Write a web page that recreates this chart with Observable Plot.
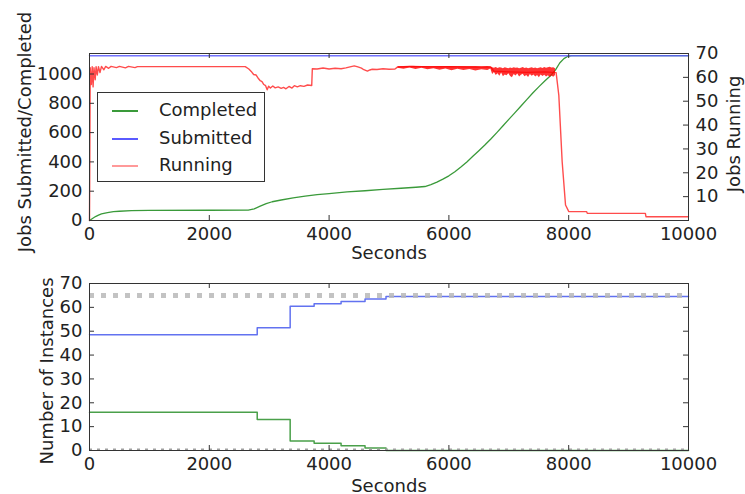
<!DOCTYPE html>
<html><head><meta charset="utf-8">
<script src="https://cdn.jsdelivr.net/npm/d3@7"></script>
<script src="https://cdn.jsdelivr.net/npm/@observablehq/plot@0.6"></script>
<style>
body{margin:0;background:#fff;}
#wrap{position:relative;width:745px;height:494px;overflow:hidden;font-family:"DejaVu Sans";}
#wrap svg{display:block;}
#legend{position:absolute;left:97px;top:92px;width:166px;height:88px;border:1.5px solid #333;background:#fff;}
.row{position:absolute;left:0;height:20px;width:160px;}
.sw{position:absolute;left:14px;width:26px;top:9px;height:0;border-top:2px solid;}
.lab{position:absolute;left:61px;top:-2px;font-size:18px;color:#222;white-space:nowrap;line-height:22px;}
</style></head><body>
<div id="wrap"><div id="top"></div><div id="bot"></div><div id="legend"></div></div>
<script>
// ---------- data ----------
const secTicks = [0, 2000, 4000, 6000, 8000, 10000];
const jobTicks = [0, 200, 400, 600, 800, 1000];
const runTicks = [10, 20, 30, 40, 50, 60, 70];
const instTicks = [0, 10, 20, 30, 40, 50, 60, 70];

const seriesNames = ["Completed", "Submitted", "Running"];

// Completed jobs [seconds, jobs]
const completed = [[0,0],[50,14],[100,27],[150,37],[200,45],[300,54],[400,60],[500,63],[700,67],[1000,69],[2000,70],[2650,71],[2750,80],[2850,98],[2950,115],[3050,128],[3200,140],[3400,155],[3600,167],[3800,176],[4000,184],[4300,195],[4600,203],[4900,212],[5200,220],[5450,227],[5600,232],[5700,245],[5800,262],[5900,282],[6000,305],[6100,333],[6200,365],[6300,400],[6400,438],[6500,476],[6600,515],[6700,556],[6800,600],[6900,645],[7000,690],[7100,735],[7200,780],[7300,825],[7400,870],[7500,912],[7600,952],[7700,990],[7780,1028],[7850,1075],[7920,1105],[7980,1120],[8050,1125],[10000,1125]];

// Submitted jobs [seconds, jobs]
const submitted = [[0,1125],[10000,1125]];

// Running jobs [seconds, jobs running] (right axis)
const running = [[0,0],[12,64],[30,57],[45,64.5],[60,56],[75,64],[95,59],[110,64.5],[130,61],[150,64.5],[175,62],[200,64.6],[240,63.2],[270,64.6],[320,63.8],[360,64.6],[450,64.1],[500,64.6],[600,64],[650,64.6],[760,64.1],[800,64.5],[2600,64.5],[2660,63.5],[2700,62.5],[2740,61.2],[2780,61],[2820,59.5],[2850,58.6],[2880,58.2],[2910,57],[2940,56.5],[2966,54.8],[2990,56.3],[3020,55.5],[3060,56.4],[3100,55.6],[3150,56],[3200,55.4],[3240,55.8],[3280,55.2],[3330,56.2],[3380,55.5],[3420,56.5],[3470,56],[3520,56.5],[3580,56.2],[3640,56.8],[3710,56.6],[3720,63.6],[3800,63.5],[3900,63.9],[4000,63.5],[4100,63.8],[4200,63.6],[4280,64],[4350,64.4],[4420,64.8],[4480,64.4],[4540,63.9],[4580,63.2],[4640,62.6],[4680,63.1],[4720,63.4],[4800,63.3],[4900,63.6],[5000,63.4],[5100,63.5],[5140,64.3],[5400,64.6],[5700,64.4],[6000,64.5],[6300,64.3],[6700,64.3],[6750,62.6],[7000,62.3],[7300,62.1],[7600,62.3],[7790,62],[7835,52.5],[7891,24.6],[7947,6.5],[8002,3.7],[8300,3.7],[8310,3.0],[9280,3.0],[9290,1.6],[10000,1.6]];

// Running jobs: spread of the noisy samples [seconds, low, high]
const runSpread = [[5150,63.8,64.6],[5250,63.4,64.6],[5350,63.9,64.7],[5450,63.3,64.6],[5550,63.8,64.5],[5650,63.2,64.6],[5750,63.6,64.6],[5850,63,64.6],[5950,63.5,64.5],[6050,62.8,64.6],[6150,63.4,64.6],[6250,62.9,64.5],[6350,63.3,64.6],[6450,62.7,64.5],[6550,63.2,64.4],[6650,62.9,64.5],[6700,63.5,64.4],[6730,61.2,64],[6760,62,63.8],[6790,60.8,64.1],[6820,61.5,63.7],[6850,60.5,64],[6880,61.8,63.9],[6910,60.3,63.6],[6940,61,64],[6970,60.7,63.8],[7000,61.5,63.6],[7030,60.4,63.9],[7060,59.8,63.7],[7090,61.2,64],[7120,60.6,63.8],[7150,61.4,63.9],[7180,60.2,63.6],[7210,60.9,63.8],[7240,61.3,64.1],[7270,60.3,63.7],[7300,60.8,63.9],[7330,59.9,63.6],[7360,61.2,63.8],[7390,60.5,64],[7420,61,63.7],[7450,60.2,63.9],[7480,60.8,63.6],[7510,59.8,63.8],[7540,61,64],[7570,60.4,63.7],[7600,60.9,64.1],[7630,60.1,63.8],[7660,60.7,64],[7690,59.9,64.2],[7720,60.6,63.9],[7750,60,64],[7780,60.8,63.6]];

// Instances (bottom panel), step-after
const instT     = [0, 2800, 3350, 3750, 4200, 4600, 4950, 10000];
const instBlue  = [48.5, 51.5, 60.5, 61.5, 62.5, 63.5, 64.5, 64.5];
const instGreen = [16, 13, 4, 3, 2, 1, 0, 0];
const instMax = 65;
const instMin = 0;

// ---------- styling ----------
const GREEN = "#3a9a3a", BLUE = "#5a5aff", RED = "#ff0000";
const GREEN2 = "#4aa04a", BLUE2 = "#6272f0";
const W = 745, ML = 89, MR = 57;
const K = 1140 / 70; // right axis -> left axis units
const font = {fontFamily: "DejaVu Sans", fontSize: "18px", color: "#222", background: "transparent", overflow: "visible"};

// ---------- top panel ----------
const topH = 270, topMT = 53, topMB = 50;
const FWt = W - ML - MR, FHt = topH - topMT - topMB;
const topPlot = Plot.plot({
  width: W, height: topH, marginLeft: ML, marginRight: MR, marginTop: topMT, marginBottom: topMB,
  style: font,
  x: {domain: [0, 10000]},
  y: {domain: [0, 1140]},
  marks: [
    Plot.line(completed, {x: d => d[0], y: d => d[1], stroke: GREEN, strokeWidth: 1.3}),
    Plot.line(submitted, {x: d => d[0], y: d => d[1], stroke: BLUE, strokeWidth: 1.5, strokeOpacity: 0.85}),
    Plot.areaY(runSpread, {x: d => d[0], y1: d => d[1] * K, y2: d => d[2] * K, fill: RED, fillOpacity: 0.8}),
    Plot.line(running, {x: d => d[0], y: d => d[1] * K, stroke: RED, strokeWidth: 1.4, strokeOpacity: 0.7}),
    Plot.frame({stroke: "#333"}),
    Plot.axisX({ticks: secTicks, tickSize: 0, tickPadding: 7, tickFormat: d => String(d), label: null}),
    Plot.axisY({ticks: jobTicks, tickSize: 0, tickPadding: 7, tickFormat: d => String(d), label: null}),
    Plot.axisY({anchor: "right", ticks: runTicks.map(r => r * K), tickSize: 0, tickPadding: 7, tickFormat: d => String(Math.round(d / K)), label: null}),
    Plot.ruleX(secTicks, {x: d => d, insetTop: FHt - 5, stroke: "#333"}),
    Plot.ruleX(secTicks, {x: d => d, insetBottom: FHt - 5, stroke: "#333"}),
    Plot.ruleY(jobTicks, {y: d => d, insetRight: FWt - 5, stroke: "#333"}),
    Plot.ruleY(runTicks, {y: d => d * K, insetLeft: FWt - 5, stroke: "#333"}),
    Plot.text(["Seconds"], {frameAnchor: "bottom", dy: 38, text: d => d, fill: "#222"}),
    Plot.text(["Jobs Submitted/Completed"], {frameAnchor: "left", dx: -64, dy: -5, rotate: -90, textAnchor: "middle", lineAnchor: "middle", text: d => d, fill: "#222"}),
    Plot.text(["Jobs Running"], {frameAnchor: "right", dx: 46, dy: -3, rotate: -90, textAnchor: "middle", lineAnchor: "middle", text: d => d, fill: "#222"})
  ]
});
document.getElementById("top").appendChild(topPlot);

// ---------- bottom panel ----------
const botH = 224, botMT = 13, botMB = 44;
const FWb = W - ML - MR, FHb = botH - botMT - botMB;
const instRows = instT.map((t, i) => ({t, blue: instBlue[i], green: instGreen[i]}));
const botPlot = Plot.plot({
  width: W, height: botH, marginLeft: ML, marginRight: MR, marginTop: botMT, marginBottom: botMB,
  style: font,
  x: {domain: [0, 10000]},
  y: {domain: [0, 70]},
  marks: [
    Plot.line(instRows, {x: "t", y: "green", curve: "step-after", stroke: GREEN2, strokeWidth: 1.5}),
    Plot.line(instRows, {x: "t", y: "blue", curve: "step-after", stroke: BLUE2, strokeWidth: 1.5}),
    Plot.ruleY([instMax], {y: d => d, stroke: "#b8b8b8", strokeWidth: 5, strokeDasharray: "5,7", strokeOpacity: 0.85}),
    Plot.ruleY([instMin], {y: d => d, stroke: "#a0a0a0", strokeWidth: 2, strokeDasharray: "3,5", dy: -1}),
    Plot.frame({stroke: "#333"}),
    Plot.axisX({ticks: secTicks, tickSize: 0, tickPadding: 7, tickFormat: d => String(d), label: null}),
    Plot.axisY({ticks: instTicks, tickSize: 0, tickPadding: 7, tickFormat: d => String(d), label: null}),
    Plot.ruleX(secTicks, {x: d => d, insetTop: FHb - 5, stroke: "#333"}),
    Plot.ruleX(secTicks, {x: d => d, insetBottom: FHb - 5, stroke: "#333"}),
    Plot.ruleY(instTicks, {y: d => d, insetRight: FWb - 5, stroke: "#333"}),
    Plot.ruleY(instTicks, {y: d => d, insetLeft: FWb - 5, stroke: "#333"}),
    Plot.text(["Seconds"], {frameAnchor: "bottom", dy: 41, text: d => d, fill: "#222"}),
    Plot.text(["Number of Instances"], {frameAnchor: "left", dx: -42, dy: 4, rotate: -90, textAnchor: "middle", lineAnchor: "middle", text: d => d, fill: "#222"})
  ]
});
document.getElementById("bot").appendChild(botPlot);

// ---------- legend ----------
const legendColors = [GREEN, BLUE, "rgba(255,0,0,0.4)"];
const legendTops = [8, 36, 63];
const lg = document.getElementById("legend");
seriesNames.forEach((name, i) => {
  const row = document.createElement("div");
  row.className = "row";
  row.style.top = legendTops[i] + "px";
  row.innerHTML = `<div class="sw" style="border-color:${legendColors[i]}"></div><div class="lab">${name}</div>`;
  lg.appendChild(row);
});
</script></body></html>
